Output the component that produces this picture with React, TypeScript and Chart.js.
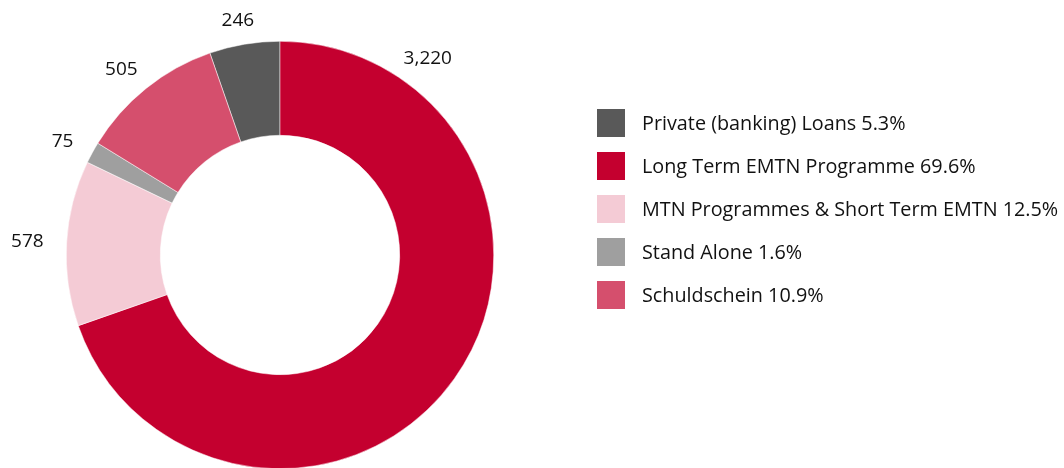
import React, { useEffect, useRef } from "react";
import { Chart, registerables } from "chart.js";

Chart.register(...registerables);

const categories = [
  "Private (banking) Loans",
  "Long Term EMTN Programme",
  "MTN Programmes & Short Term EMTN",
  "Stand Alone",
  "Schuldschein",
];
const values = [246, 3220, 578, 75, 505];
const percentLabels = ["5.3%", "69.6%", "12.5%", "1.6%", "10.9%"];
const colors = ["#595959", "#C4002F", "#F4CBD5", "#9F9F9F", "#D54F6D"];

const FONT = '"Open Sans", "Noto Sans", sans-serif';

const customPlugin = {
  id: "customDecor",
  afterDraw(chart: any) {
    const ctx = chart.ctx;
    const meta = chart.getDatasetMeta(0);
    ctx.save();
    // value labels
    ctx.font = `19px ${FONT}`;
    ctx.fillStyle = "#111111";
    ctx.textAlign = "center";
    ctx.textBaseline = "middle";
    const overrides: Record<number, number> = { 1: 34.5 };
    meta.data.forEach((arc: any, i: number) => {
      const p = arc.getProps(["x", "y", "startAngle", "endAngle", "outerRadius"], true);
      let mid = (p.startAngle + p.endAngle) / 2;
      if (overrides[i] !== undefined) mid = ((overrides[i] - 90) * Math.PI) / 180;
      const dx = Math.cos(mid);
      const dy = Math.sin(mid);
      const txt = values[i].toLocaleString("en-US");
      const w = ctx.measureText(txt).width;
      const h = 14;
      const r = p.outerRadius + 17;
      const cx = p.x + dx * r + dx * (w / 2 + 6);
      const cy = p.y + dy * r + dy * (h / 2);
      ctx.fillText(txt, cx, cy);
    });
    // legend
    ctx.font = `19.8px ${FONT}`;
    const lx = 597;
    const ly0 = 123;
    const step = 43;
    const box = 28;
    ctx.textAlign = "left";
    categories.forEach((c, i) => {
      const cy = ly0 + i * step;
      ctx.fillStyle = colors[i];
      ctx.fillRect(lx, cy - box / 2, box, box);
      ctx.fillStyle = "#111111";
      ctx.fillText(`${c} ${percentLabels[i]}`, 642, cy + 1);
    });
    ctx.restore();
  },
};

export default function App() {
  const ref = useRef<HTMLCanvasElement>(null);
  useEffect(() => {
    if (!ref.current) return;
    const total = values.reduce((a, b) => a + b, 0);
    const chart = new Chart(ref.current, {
      type: "doughnut",
      data: {
        labels: categories,
        datasets: [
          {
            data: values,
            backgroundColor: colors,
            borderColor: "#ffffff",
            borderWidth: 0.5,
          },
        ],
      },
      options: {
        responsive: false,
        maintainAspectRatio: false,
        animation: false,
        devicePixelRatio: 1,
        rotation: -(values[0] / total) * 360,
        cutout: "56%",
        layout: { padding: { left: 66, right: 570, top: 41, bottom: 11 } },
        plugins: {
          legend: { display: false },
          tooltip: { enabled: false },
        },
      },
      plugins: [customPlugin],
    });
    return () => chart.destroy();
  }, []);
  return (
    <div
      style={{
        position: "fixed",
        left: 0,
        top: 0,
        width: 1064,
        height: 468,
        overflow: "hidden",
        background: "#fff",
      }}
    >
      <canvas ref={ref} width={1064} height={480} style={{ display: "block" }} />
    </div>
  );
}
